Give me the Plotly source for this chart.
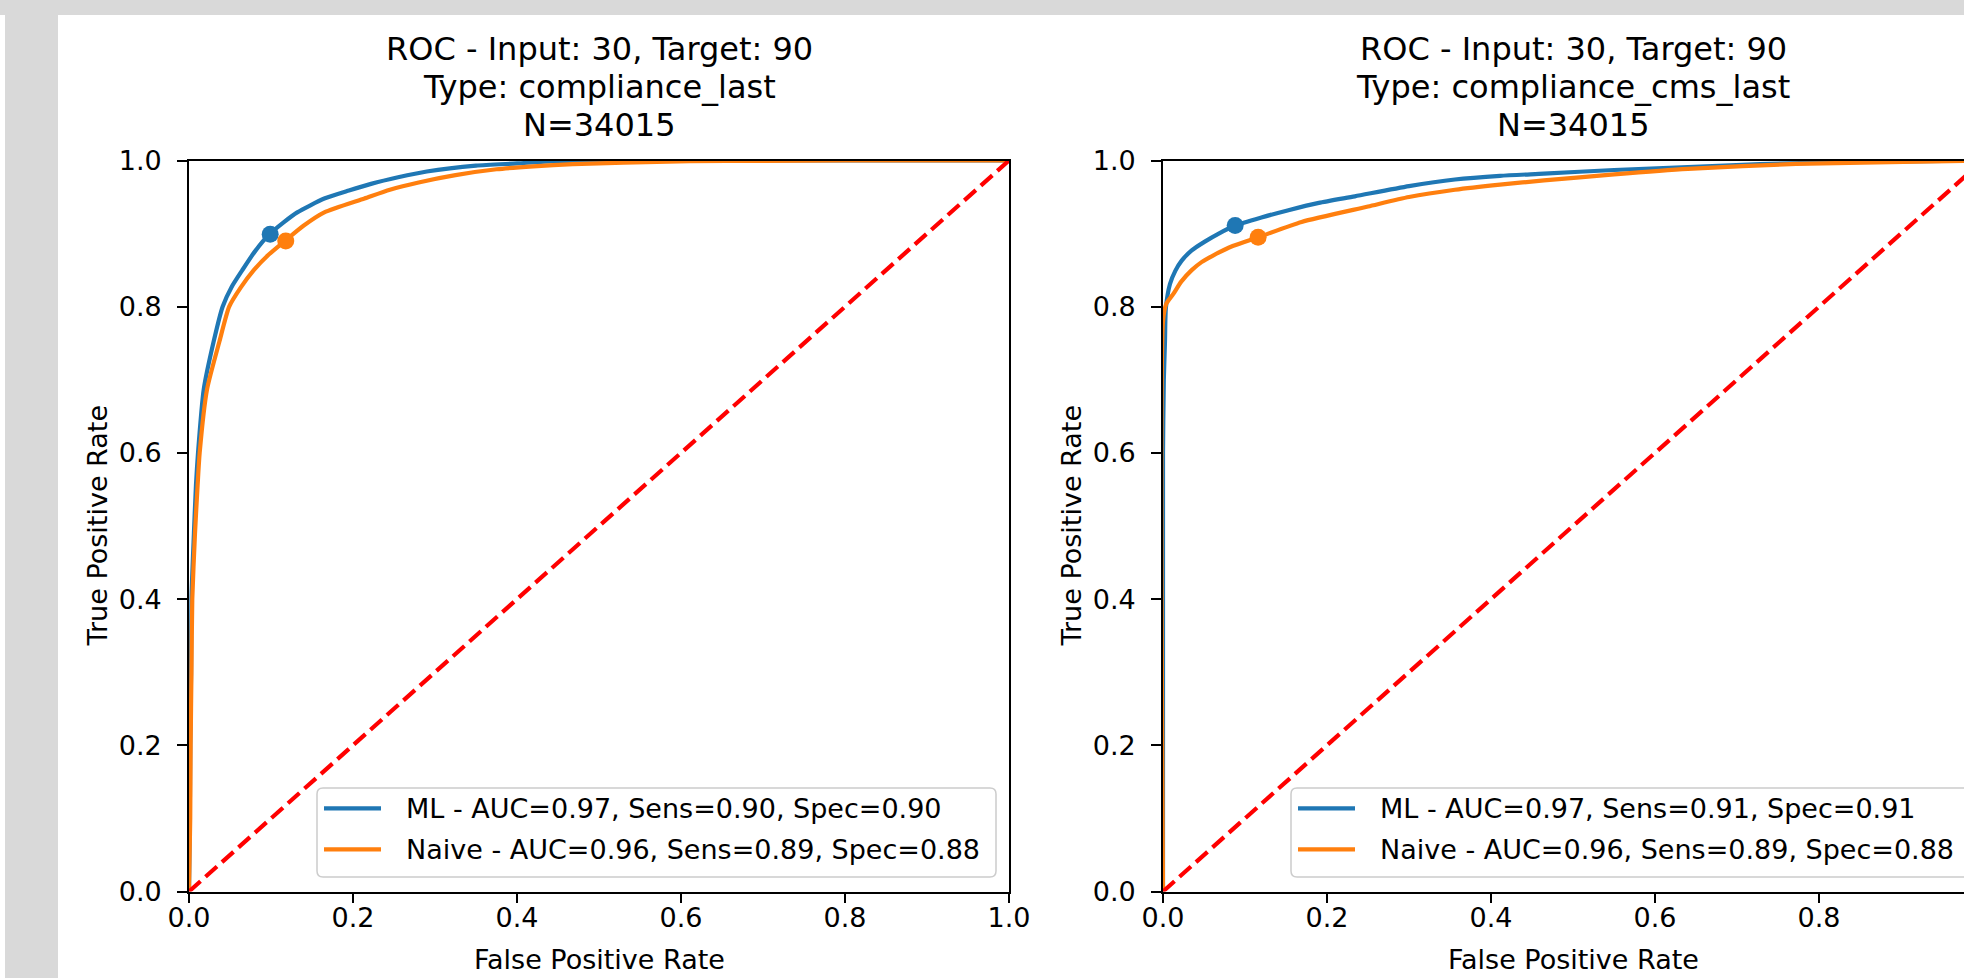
import plotly.graph_objects as go

W, H = 1964, 978
FONT = "DejaVu Sans"
BLUE = "#1f77b4"
ORANGE = "#ff7f0e"

# ---------------- data ----------------
tick_vals = [0.0, 0.2, 0.4, 0.6, 0.8, 1.0]
tick_text = ["0.0", "0.2", "0.4", "0.6", "0.8", "1.0"]

titles_left = ["ROC - Input: 30, Target: 90", "Type: compliance_last", "N=34015"]
titles_right = ["ROC - Input: 30, Target: 90", "Type: compliance_cms_last", "N=34015"]

legend_left = ["ML - AUC=0.97, Sens=0.90, Spec=0.90",
               "Naive - AUC=0.96, Sens=0.89, Spec=0.88"]
legend_right = ["ML - AUC=0.97, Sens=0.91, Spec=0.91",
                "Naive - AUC=0.96, Sens=0.89, Spec=0.88"]

# left panel (compliance_last)
fpr_ml_l = [0, 0.001, 0.0015, 0.0025, 0.003, 0.006, 0.0085, 0.011, 0.018, 0.030, 0.041,
            0.052, 0.065, 0.080, 0.098, 0.115, 0.132, 0.165, 0.195, 0.222, 0.255, 0.29,
            0.35, 0.40, 0.445, 0.52, 0.6, 0.8, 1.0]
tpr_ml_l = [0, 0.10, 0.20, 0.30, 0.40, 0.49, 0.556, 0.60, 0.687, 0.752, 0.80,
            0.827, 0.85, 0.875, 0.899, 0.915, 0.929, 0.948, 0.959, 0.968, 0.977, 0.985,
            0.993, 0.996, 0.999, 0.9995, 1.0, 1.0, 1.0]
fpr_nv_l = [0, 0.0015, 0.002, 0.003, 0.004, 0.0073, 0.0105, 0.013, 0.022, 0.037, 0.049,
            0.063, 0.079, 0.097, 0.117, 0.140, 0.165, 0.214, 0.245, 0.28, 0.325, 0.375,
            0.42, 0.468, 0.53, 0.61, 0.7, 0.8, 1.0]
tpr_nv_l = [0, 0.10, 0.20, 0.30, 0.40, 0.49, 0.556, 0.60, 0.687, 0.752, 0.80,
            0.826, 0.85, 0.871, 0.890, 0.911, 0.929, 0.948, 0.960, 0.970, 0.980, 0.988,
            0.992, 0.995, 0.997, 0.999, 0.9995, 1.0, 1.0]
op_ml_l = (0.099, 0.899)
op_nv_l = (0.118, 0.890)

# right panel (compliance_cms_last)
fpr_ml_r = [0, 0, 0.001, 0.0024, 0.0035, 0.0085, 0.015, 0.0228, 0.035, 0.051, 0.068, 0.088,
            0.12, 0.153, 0.19, 0.234, 0.30, 0.356, 0.411, 0.4645, 0.55, 0.64, 0.728,
            0.85, 1.0]
tpr_ml_r = [0, 0.60, 0.70, 0.752, 0.798, 0.831, 0.849, 0.863, 0.877, 0.889, 0.900, 0.911,
            0.922, 0.932, 0.942, 0.951, 0.965, 0.974, 0.979, 0.982, 0.987, 0.991, 0.995,
            0.998, 1.0]
fpr_nv_r = [0, 0, 0.004, 0.0126, 0.022, 0.035, 0.047, 0.061, 0.085, 0.116, 0.169, 0.25,
            0.30, 0.356, 0.411, 0.4645, 0.55, 0.64, 0.772, 0.903, 1.0]
tpr_nv_r = [0, 0.78, 0.804, 0.8175, 0.834, 0.85, 0.861, 0.870, 0.883, 0.895, 0.916, 0.937,
            0.950, 0.960, 0.967, 0.9727, 0.981, 0.9886, 0.9954, 0.998, 1.0]
op_ml_r = (0.088, 0.911)
op_nv_r = (0.116, 0.895)

diag = [0, 1]

# ---------------- geometry (pixels) ----------------
AX_L = (189, 1009)
AX_R = (1163, 1983)
AX_TOP, AX_BOT = 160.5, 891.5
LEG_W, LEG_TOP, LEG_BOT = 679, 788, 877
LEG_ROWS = (808.3, 849.3)


def px(x):
    return x / W


def py(y):
    return 1 - y / H


fig = go.Figure()


def add_panel(fml, tml, fnv, tnv, opml, opnv, names, xa, ya):
    fig.add_trace(go.Scatter(x=fml, y=tml, mode="lines", name=names[0],
                             line=dict(color=BLUE, width=4.2, shape="spline", smoothing=0.6),
                             xaxis=xa, yaxis=ya, showlegend=False, hoverinfo="skip"))
    fig.add_trace(go.Scatter(x=[opml[0]], y=[opml[1]], mode="markers", showlegend=False,
                             marker=dict(color=BLUE, size=17), xaxis=xa, yaxis=ya,
                             hoverinfo="skip"))
    fig.add_trace(go.Scatter(x=fnv, y=tnv, mode="lines", name=names[1],
                             line=dict(color=ORANGE, width=4.2, shape="spline", smoothing=0.6),
                             xaxis=xa, yaxis=ya, showlegend=False, hoverinfo="skip"))
    fig.add_trace(go.Scatter(x=[opnv[0]], y=[opnv[1]], mode="markers", showlegend=False,
                             marker=dict(color=ORANGE, size=17), xaxis=xa, yaxis=ya,
                             hoverinfo="skip"))
    fig.add_trace(go.Scatter(x=diag, y=diag, mode="lines", showlegend=False,
                             line=dict(color="#ff0000", width=4.2, dash="15.4px,6.7px"),
                             xaxis=xa, yaxis=ya, hoverinfo="skip"))


add_panel(fpr_ml_l, tpr_ml_l, fpr_nv_l, tpr_nv_l, op_ml_l, op_nv_l, legend_left, "x", "y")
add_panel(fpr_ml_r, tpr_ml_r, fpr_nv_r, tpr_nv_r, op_ml_r, op_nv_r, legend_right, "x2", "y2")

tickfont = dict(family=FONT, size=27, color="black")
axis_common = dict(showgrid=False, zeroline=False, showline=True, linecolor="black",
                   linewidth=2.2, ticks="outside", ticklen=9.7, tickwidth=2.2,
                   tickcolor="black", tickvals=tick_vals, ticktext=tick_text,
                   tickfont=tickfont, automargin=False, fixedrange=True)
xaxis_common = dict(axis_common, ticklabelstandoff=-9)
yaxis_common = dict(axis_common, ticklabelstandoff=10)

right_xmax = (W - AX_R[0]) / (AX_R[1] - AX_R[0])

fig.update_layout(
    width=W, height=H,
    margin=dict(l=0, r=0, t=0, b=0),
    paper_bgcolor="white", plot_bgcolor="white",
    font=dict(family=FONT, size=27, color="black"),
    xaxis=dict(domain=[px(AX_L[0]), px(AX_L[1])], range=[0, 1], mirror=True,
               anchor="y", **xaxis_common),
    yaxis=dict(domain=[py(AX_BOT), py(AX_TOP)], range=[0, 1], mirror=True,
               anchor="x", **yaxis_common),
    xaxis2=dict(domain=[px(AX_R[0]), 1.0], range=[0, right_xmax], mirror=True,
                anchor="y2", **xaxis_common),
    yaxis2=dict(domain=[py(AX_BOT), py(AX_TOP)], range=[0, 1], mirror=False,
                anchor="x2", **yaxis_common),
    showlegend=False,
)

# gray frame around the figure area
fig.add_shape(type="rect", xref="paper", yref="paper", x0=0, x1=1, y0=py(15), y1=1,
              fillcolor="#d9d9d9", line_width=0, layer="below")
fig.add_shape(type="rect", xref="paper", yref="paper", x0=px(5), x1=px(58), y0=0,
              y1=py(15), fillcolor="#d9d9d9", line_width=0, layer="below")


# legends (matplotlib style: rounded, semi-transparent white box, light gray edge)
def rounded_box(x0p, x1p, ytop, ybot, r=6):
    x0, x1 = px(x0p), px(x1p)
    y0, y1 = py(ybot), py(ytop)
    rx, ry = r / W, r / H
    return (f"M{x0 + rx},{y0} L{x1 - rx},{y0} Q{x1},{y0} {x1},{y0 + ry} "
            f"L{x1},{y1 - ry} Q{x1},{y1} {x1 - rx},{y1} L{x0 + rx},{y1} "
            f"Q{x0},{y1} {x0},{y1 - ry} L{x0},{y0 + ry} Q{x0},{y0} {x0 + rx},{y0} Z")


for lx, names in ((317, legend_left), (1291, legend_right)):
    fig.add_shape(type="path", xref="paper", yref="paper",
                  path=rounded_box(lx, lx + LEG_W, LEG_TOP, LEG_BOT),
                  fillcolor="rgba(255,255,255,0.8)",
                  line=dict(color="#cccccc", width=1.5), layer="above")
    for ry, color, name in zip(LEG_ROWS, (BLUE, ORANGE), names):
        fig.add_shape(type="line", xref="paper", yref="paper",
                      x0=px(lx + 7), x1=px(lx + 64), y0=py(ry), y1=py(ry),
                      line=dict(color=color, width=4.2), layer="above")
        fig.add_annotation(text=name, xref="paper", yref="paper", x=px(lx + 87),
                           y=py(ry), xanchor="left", yanchor="middle", showarrow=False,
                           font=dict(family=FONT, size=27, color="black"))

# titles
title_y = [48.5, 87, 125]
for cx, lines in ((sum(AX_L) / 2, titles_left), (sum(AX_R) / 2, titles_right)):
    for ty, line in zip(title_y, lines):
        fig.add_annotation(text=line, xref="paper", yref="paper", x=px(cx), y=py(ty),
                           xanchor="center", yanchor="middle", showarrow=False,
                           font=dict(family=FONT, size=32, color="black"))

# axis labels
for cx in (sum(AX_L) / 2, sum(AX_R) / 2):
    fig.add_annotation(text="False Positive Rate", xref="paper", yref="paper",
                       x=px(cx), y=py(959), xanchor="center", yanchor="middle",
                       showarrow=False, font=dict(family=FONT, size=27, color="black"))
for lx in (96.5, 1070.5):
    fig.add_annotation(text="True Positive Rate", xref="paper", yref="paper",
                       x=px(lx), y=py((AX_TOP + AX_BOT) / 2), xanchor="center",
                       yanchor="middle", textangle=-90, showarrow=False,
                       font=dict(family=FONT, size=27, color="black"))

fig.write_html("out.html", config={"displayModeBar": False},
               post_script="document.body.style.margin='0';")
